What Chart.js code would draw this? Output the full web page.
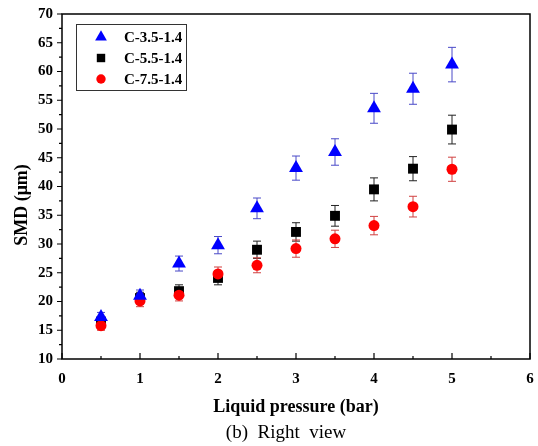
<!DOCTYPE html>
<html>
<head>
<meta charset="utf-8">
<script src="https://cdn.jsdelivr.net/npm/chart.js@4/dist/chart.umd.min.js"></script>
<style>
  html, body { margin: 0; padding: 0; background: #fff; }
  #wrap { width: 538px; height: 446px; }
</style>
</head>
<body>
<div id="wrap"><canvas id="smd" width="538" height="446"></canvas></div>
<script>
// Данные с графика
const pressure = [0.5, 1, 1.5, 2, 2.5, 3, 3.5, 4, 4.5, 5];
const smdC35 = [17.3, 21.0, 26.6, 29.8, 36.2, 43.2, 46.0, 53.6, 57.0, 61.2];
const errC35 = [0.8, 1.0, 1.3, 1.5, 1.8, 2.1, 2.3, 2.6, 2.7, 3.0];
const smdC55 = [16.5, 20.6, 21.8, 24.1, 29.0, 32.1, 34.9, 39.5, 43.1, 49.9];
const errC55 = [0.8, 1.0, 1.1, 1.2, 1.5, 1.6, 1.8, 2.0, 2.1, 2.5];
const smdC75 = [15.8, 20.1, 21.1, 24.8, 26.3, 29.2, 30.9, 33.2, 36.5, 43.0];
const errC75 = [0.8, 1.0, 1.0, 1.2, 1.3, 1.5, 1.5, 1.6, 1.8, 2.1];
const seriesNames = ["C-3.5-1.4", "C-5.5-1.4", "C-7.5-1.4"];
const xTickValues = [0, 1, 2, 3, 4, 5, 6];
const yTickValues = [10, 15, 20, 25, 30, 35, 40, 45, 50, 55, 60, 65, 70];

const SERIF = "'Liberation Serif', 'Times New Roman', serif";

const toPoints = (ys) => pressure.map((x, i) => ({ x, y: ys[i] }));

// Планки погрешностей под маркерами
const errorBars = {
  id: "errorBars",
  beforeDatasetsDraw(chart) {
    const { ctx, scales } = chart;
    chart.data.datasets.forEach((ds) => {
      ctx.save();
      ctx.strokeStyle = ds.errorColor;
      ctx.lineWidth = 1;
      ds.data.forEach((p, i) => {
        const e = ds.errors[i];
        const px = scales.x.getPixelForValue(p.x);
        const top = scales.y.getPixelForValue(p.y + e);
        const bot = scales.y.getPixelForValue(p.y - e);
        ctx.beginPath();
        ctx.moveTo(px, top);
        ctx.lineTo(px, bot);
        ctx.moveTo(px - 4, top);
        ctx.lineTo(px + 4, top);
        ctx.moveTo(px - 4, bot);
        ctx.lineTo(px + 4, bot);
        ctx.stroke();
      });
      ctx.restore();
    });
  },
};

// Рамка, засечки, легенда и подписи
const frame = {
  id: "frame",
  afterDraw(chart) {
    const { ctx, chartArea: a, scales } = chart;
    ctx.save();
    ctx.strokeStyle = "#000";
    ctx.lineWidth = 1.5;
    ctx.strokeRect(a.left, a.top, a.right - a.left, a.bottom - a.top);

    ctx.lineWidth = 1.2;
    ctx.beginPath();
    for (let v = 10; v <= 70; v += 2.5) {
      const py = scales.y.getPixelForValue(v);
      const len = v % 5 === 0 ? 5 : 3;
      ctx.moveTo(a.left - len, py);
      ctx.lineTo(a.left, py);
    }
    for (let v = 0; v <= 6; v += 0.5) {
      const px = scales.x.getPixelForValue(v);
      const len = v % 1 === 0 ? 6 : 3;
      ctx.moveTo(px, a.bottom);
      ctx.lineTo(px, a.bottom - len);
    }
    ctx.stroke();

    // легенда
    ctx.lineWidth = 1;
    ctx.strokeStyle = "#333";
    ctx.strokeRect(76.5, 24.5, 110, 66);
    ctx.font = "bold 15px " + SERIF;
    ctx.textBaseline = "middle";
    ctx.fillStyle = "#000";
    chart.data.datasets.forEach((ds, i) => {
      const y = 37 + i * 21;
      ctx.fillStyle = ds.backgroundColor;
      ctx.strokeStyle = ds.borderColor;
      Chart.helpers.drawPoint(ctx, { pointStyle: ds.pointStyle, radius: ds.pointRadius * 0.85, borderWidth: 0 }, 101, y);
      ctx.fillStyle = "#000";
      ctx.textAlign = "left";
      ctx.fillText(ds.label, 124, y + 1);
    });

    // подпись оси Y
    ctx.save();
    ctx.translate(22, 205);
    ctx.rotate(-Math.PI / 2);
    ctx.textAlign = "center";
    ctx.font = "bold 18px " + SERIF;
    ctx.fillText("SMD (\u03bcm)", 0, 0);
    ctx.restore();

    // подпись рисунка
    ctx.textAlign = "center";
    ctx.font = "19px " + SERIF;
    ctx.fillText("(b)  Right  view", 286, 433);
    ctx.restore();
  },
};

new Chart(document.getElementById("smd"), {
  type: "scatter",
  data: {
    datasets: [
      {
        label: seriesNames[0],
        data: toPoints(smdC35),
        errors: errC35,
        errorColor: "#4a4ac8",
        pointStyle: "triangle",
        pointRadius: 8,
        backgroundColor: "#0000ff",
        borderColor: "#0000ff",
        borderWidth: 0,
        order: 0,
      },
      {
        label: seriesNames[1],
        data: toPoints(smdC55),
        errors: errC55,
        errorColor: "#222",
        pointStyle: "rect",
        pointRadius: 7,
        backgroundColor: "#000",
        borderColor: "#000",
        borderWidth: 0,
        order: 2,
      },
      {
        label: seriesNames[2],
        data: toPoints(smdC75),
        errors: errC75,
        errorColor: "#d04040",
        pointStyle: "circle",
        pointRadius: 5.5,
        backgroundColor: "#ff0000",
        borderColor: "#ff0000",
        borderWidth: 0,
        order: 1,
      },
    ],
  },
  options: {
    responsive: false,
    animation: false,
    layout: { padding: { left: 0, right: 6, top: 14, bottom: 26 } },
    plugins: {
      legend: { display: false },
      tooltip: { enabled: false },
    },
    scales: {
      x: {
        type: "linear",
        min: 0,
        max: 6,
        afterFit: (s) => {
          s.height = 61;
          s.paddingLeft = 0;
          s.paddingRight = 0;
        },
        afterBuildTicks: (s) => { s.ticks = xTickValues.map((v) => ({ value: v })); },
        grid: { display: false, drawTicks: false },
        border: { display: false },
        ticks: {
          padding: 11,
          color: "#000",
          font: { family: SERIF, size: 15, weight: "bold" },
        },
        title: {
          display: true,
          text: "Liquid pressure (bar)",
          color: "#000",
          font: { family: SERIF, size: 18, weight: "bold" },
          padding: { top: 0, bottom: 2 },
        },
      },
      y: {
        type: "linear",
        min: 10,
        max: 70,
        afterFit: (s) => {
          s.width = 62;
          s.paddingTop = 0;
          s.paddingBottom = 0;
        },
        afterBuildTicks: (s) => { s.ticks = yTickValues.map((v) => ({ value: v })); },
        grid: { display: false, drawTicks: false },
        border: { display: false },
        ticks: {
          padding: 9,
          color: "#000",
          font: { family: SERIF, size: 15, weight: "bold" },
        },
      },
    },
  },
  plugins: [errorBars, frame],
});
</script>
</body>
</html>
